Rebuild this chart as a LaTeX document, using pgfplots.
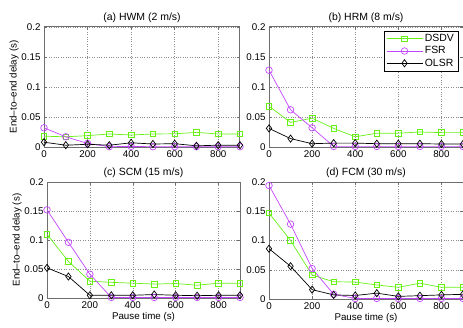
\documentclass[border=0pt]{standalone}
\usepackage{fontspec}
\setmainfont{Liberation Sans}
\usepackage{pgfplots}
\pgfplotsset{compat=1.18}
\definecolor{dsdv}{RGB}{102,240,20}
\definecolor{fsr}{RGB}{195,70,255}
\definecolor{frame}{RGB}{110,110,110}
\pgfplotsset{
  myax/.style={
    scale only axis,
    xmin=0, xmax=900, ymin=0, ymax=0.2,
    xtick={0,200,400,600,800},
    ytick={0,0.05,0.1,0.15,0.2},
    yticklabels={0,0.05,0.1,0.15,0.2},
    xticklabels={0,200,400,600,800},
    tick align=inside,
    major tick length=3pt,
    tick style={frame, thin},
    axis line style={frame, line width=1pt},
    grid=major,
    grid style={dotted, gray!90, thin},
    font=\fontsize{9.5}{11}\selectfont,
    ticklabel style={font=\fontsize{9.8}{11}\selectfont},
    title style={font=\fontsize{10.5}{12}\selectfont, yshift=-5pt},
    label style={font=\fontsize{9.8}{11}\selectfont},
    /pgf/number format/assume math mode=true,
    clip=false,
  },
  ds/.style={dsdv, line width=0.7pt, mark=square, mark size=2.8pt, mark options={solid, line width=0.7pt}},
  fs/.style={fsr, line width=0.7pt, mark=o, mark size=3.3pt, mark options={solid, line width=0.7pt}},
  ol/.style={black, line width=0.7pt, mark=diamond, mark size=3.6pt, mark options={solid, line width=0.7pt}},
}
\begin{document}
\begin{tikzpicture}[x=1bp,y=1bp]
\path[use as bounding box] (0,0) rectangle (463,327);
% (a)
\begin{axis}[myax, at={(44bp,180bp)}, anchor=south west, width=196bp, height=120bp,
  title={(a) HWM (2 m/s)}, ylabel={End--to--end delay (s)}, ylabel style={yshift=-4pt}]
\addplot[ds] coordinates {(0,0.018)(100,0.017)(200,0.019)(300,0.0217)(400,0.020)(500,0.0217)(600,0.022)(700,0.0244)(800,0.0217)(900,0.0217)};
\addplot[fs] coordinates {(0,0.032)(100,0.017)(200,0.006)(300,0.0005)(400,0.001)(500,0.0005)(600,0.0005)(700,0.0005)(800,0.0005)(900,0.0005)};
\addplot[ol] coordinates {(0,0.008)(100,0.003)(200,0.0045)(300,0.003)(400,0.007)(500,0.005)(600,0.0055)(700,0.002)(800,0.003)(900,0.003)};
\end{axis}
% (b)
\begin{axis}[myax, at={(269bp,180bp)}, anchor=south west, width=194bp, height=120bp,
  title={(b) HRM (8 m/s)},
  legend style={at={(0.975,0.97)}, anchor=north east, draw=black, line width=0.5pt, font=\fontsize{10.5}{12}\selectfont, row sep=-0.5pt, inner sep=2pt, inner ysep=1.5pt},
  legend cell align=left,
  legend image code/.code={\draw[mark repeat=2, mark phase=2] plot coordinates {(0bp,0bp)(18bp,0bp)(36bp,0bp)};}]
\addplot[ds] coordinates {(0,0.068)(100,0.041)(200,0.048)(300,0.031)(400,0.017)(500,0.023)(600,0.023)(700,0.025)(800,0.024)(900,0.024)};
\addplot[fs] coordinates {(0,0.128)(100,0.062)(200,0.032)(300,0.001)(400,0.001)(500,0.001)(600,0.001)(700,0.001)(800,0.001)(900,0.001)};
\addplot[ol] coordinates {(0,0.031)(100,0.014)(200,0.0055)(300,0.0065)(400,0.0065)(500,0.0055)(600,0.0055)(700,0.0055)(800,0.005)(900,0.005)};
\legend{DSDV,FSR,OLSR}
\end{axis}
% (c)
\begin{axis}[myax, at={(47bp,29bp)}, anchor=south west, width=193bp, height=116bp,
  title={(c) SCM (15 m/s)}, ylabel={End--to--end delay (s)}, ylabel style={yshift=-4pt},
  xlabel={Pause time (s)}, xlabel style={yshift=3pt}]
\addplot[ds] coordinates {(0,0.110)(100,0.063)(200,0.029)(300,0.027)(400,0.0256)(500,0.024)(600,0.025)(700,0.022)(800,0.0256)(900,0.0256)};
\addplot[fs] coordinates {(0,0.152)(100,0.096)(200,0.041)(300,0.001)(400,0.001)(500,0.001)(600,0.001)(700,0.001)(800,0.001)(900,0.001)};
\addplot[ol] coordinates {(0,0.052)(100,0.037)(200,0.0047)(300,0.0047)(400,0.0047)(500,0.006)(600,0.0047)(700,0.004)(800,0.0047)(900,0.0047)};
\end{axis}
% (d)
\begin{axis}[myax, at={(269bp,28bp)}, anchor=south west, width=194bp, height=117bp,
  title={(d) FCM (30 m/s)},
  xlabel={Pause time (s)}, xlabel style={yshift=3pt}]
\addplot[ds] coordinates {(0,0.147)(100,0.100)(200,0.041)(300,0.0295)(400,0.029)(500,0.024)(600,0.020)(700,0.027)(800,0.020)(900,0.020)};
\addplot[fs] coordinates {(0,0.194)(100,0.128)(200,0.052)(300,0.008)(400,0.001)(500,0.001)(600,0.001)(700,0.001)(800,0.001)(900,0.001)};
\addplot[ol] coordinates {(0,0.086)(100,0.056)(200,0.016)(300,0.007)(400,0.006)(500,0.010)(600,0.0045)(700,0.0057)(800,0.007)(900,0.008)};
\end{axis}
\end{tikzpicture}
\end{document}
